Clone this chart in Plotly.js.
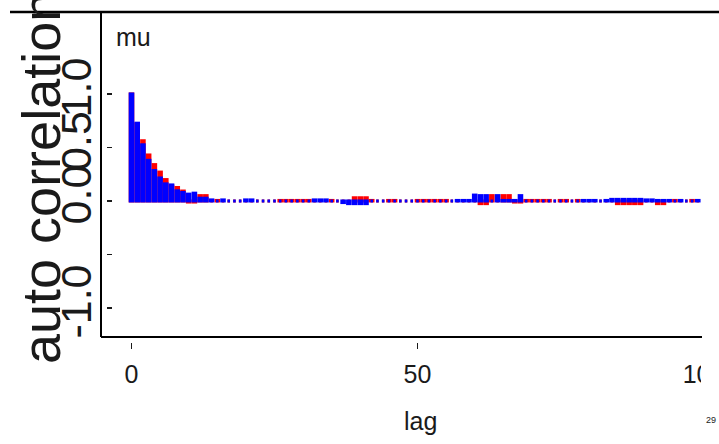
<!DOCTYPE html>
<html>
<head>
<meta charset="utf-8">
<script src="https://cdn.plot.ly/plotly-3.0.1.min.js"></script>
<style>
  html, body { margin: 0; padding: 0; background: #ffffff; }
  #chart { width: 719px; height: 444px; }
</style>
</head>
<body>
<div id="chart"></div>
<script>
// Autocorrelation of mu for two MCMC chains, lags 0..99
const lags = [
  0, 1, 2, 3, 4, 5, 6, 7, 8, 9,
  10, 11, 12, 13, 14, 15, 16, 17, 18, 19,
  20, 21, 22, 23, 24, 25, 26, 27, 28, 29,
  30, 31, 32, 33, 34, 35, 36, 37, 38, 39,
  40, 41, 42, 43, 44, 45, 46, 47, 48, 49,
  50, 51, 52, 53, 54, 55, 56, 57, 58, 59,
  60, 61, 62, 63, 64, 65, 66, 67, 68, 69,
  70, 71, 72, 73, 74, 75, 76, 77, 78, 79,
  80, 81, 82, 83, 84, 85, 86, 87, 88, 89,
  90, 91, 92, 93, 94, 95, 96, 97, 98, 99
];

// chain 1 (blue)
const chain1 = [
  1.0, 0.727, 0.525, 0.38, 0.285, 0.215, 0.16, 0.15, 0.095, 0.08,
  0.064, 0.073, 0.026, 0.026, 0.01, 0, 0.01, 0, 0, 0,
  0.01, 0.01, 0, 0, 0, 0, 0, 0, 0, 0,
  0, 0, 0.01, 0.01, 0.01, 0, 0, -0.015, -0.025, -0.025,
  -0.025, -0.025, 0, 0, 0, 0, 0, 0, 0, 0,
  0, 0, 0, 0, 0, 0, 0, 0.005, 0.005, 0.005,
  0.055, 0.05, 0.05, 0, 0.05, 0.005, 0.005, 0.005, 0.05, 0,
  0, 0, 0, 0, 0, 0, 0, 0, 0, 0.005,
  0.005, 0.005, 0, 0.005, 0.015, 0.015, 0.015, 0.015, 0.015, 0.015,
  0.01, 0.01, 0.005, 0.005, 0.005, 0, 0.005, 0, 0, 0.005
];

// chain 2 (red)
const chain2 = [
  1.0, 0.72, 0.563, 0.43, 0.34, 0.27, 0.20, 0.14, 0.126, 0.093,
  -0.01, -0.01, 0.05, 0.05, 0, 0.005, 0, 0, 0, 0,
  0, 0, 0, 0, 0, 0, 0.005, 0.005, 0.005, 0.005,
  0.005, 0.005, 0, 0, 0, 0.005, 0, 0, 0, 0.03,
  0.03, 0.03, 0.005, 0, 0, 0.005, 0.005, 0, 0, 0,
  0.005, 0.005, 0.005, 0.005, 0.005, 0.005, 0, 0, 0, 0,
  0, -0.025, -0.025, 0.05, 0, 0.05, 0.05, -0.01, -0.01, 0.005,
  0.005, 0.005, 0.005, 0.005, 0, 0.005, 0.005, 0, 0.005, 0,
  0, 0, 0, 0, 0, -0.025, -0.025, -0.025, -0.025, -0.025,
  0, 0, -0.025, -0.025, 0, 0.005, 0, 0, 0.005, 0
];

const xTickVals = [0, 50, 100];
const xTickText = ['0', '50', '100'];
const yTickVals = [-1, -0.5, 0, 0.5, 1];
const yTickText = ['-1.0', '', '0.0', '0.5', '1.0'];

const FONT = 'Liberation Sans, Arial, Helvetica, sans-serif';
const INK = '#1a1a1a';

function chainTrace(values, color) {
  return {
    type: 'bar',
    x: lags,
    y: values,
    width: 0.45,
    marker: { color: color, line: { color: color, width: 3 } },
    hoverinfo: 'skip'
  };
}

const data = [
  chainTrace(chain2, '#ff0000'),
  chainTrace(chain1, '#0000ff')
];

// pixel helpers for paper coordinates (plot area: x 101..719, y 12..342)
const px = v => (v - 101) / 618;
const py = v => (342 - v) / 330;

const layout = {
  width: 719,
  height: 444,
  margin: { l: 101, r: 0, t: 12, b: 102, pad: 0 },
  paper_bgcolor: '#ffffff',
  plot_bgcolor: '#ffffff',
  showlegend: false,
  barmode: 'overlay',
  font: { family: FONT, color: INK },
  xaxis: {
    range: [-5.33, 102.71],
    tickmode: 'array',
    tickvals: xTickVals,
    ticktext: xTickText,
    ticks: 'outside',
    ticklen: 6,
    tickwidth: 1.2,
    tickcolor: INK,
    ticklabelstandoff: 4,
    ticklabeloverflow: 'allow',
    tickfont: { family: FONT, size: 25, color: INK },
    showline: false,
    showgrid: false,
    zeroline: false,
    fixedrange: true
  },
  yaxis: {
    range: [-1.318, 1.766],
    anchor: 'free',
    position: 0.0081,
    side: 'left',
    tickmode: 'array',
    tickvals: yTickVals,
    ticktext: yTickText,
    ticks: 'inside',
    ticklen: 5,
    tickwidth: 1.5,
    tickcolor: INK,
    tickangle: -90,
    ticklabelstandoff: 6,
    ticklabeloverflow: 'allow',
    tickfont: { family: FONT, size: 43, color: INK },
    showline: false,
    showgrid: false,
    zeroline: false,
    fixedrange: true
  },
  shapes: [
    // frame lines
    { type: 'line', xref: 'paper', yref: 'paper', x0: px(10), x1: px(719), y0: py(12), y1: py(12),
      line: { color: '#000000', width: 2.4 } },
    { type: 'line', xref: 'paper', yref: 'paper', x0: px(101), x1: px(101), y0: py(12), y1: py(337),
      line: { color: '#000000', width: 2 } },
    { type: 'line', xref: 'paper', yref: 'paper', x0: px(101), x1: px(702), y0: py(337), y1: py(337),
      line: { color: '#000000', width: 2 } },
    // right edge cut-off of the figure
    { type: 'rect', xref: 'paper', yref: 'paper', layer: 'above', x0: px(701), x1: px(730), y0: py(400), y1: py(338.5),
      fillcolor: '#ffffff', line: { width: 0 } }
  ],
  annotations: [
    { text: 'auto correlation', xref: 'paper', yref: 'paper', x: px(41), y: py(178),
      xanchor: 'center', yanchor: 'middle', textangle: -90, showarrow: false,
      font: { family: FONT, size: 54, color: INK } },
    { text: 'mu', xref: 'paper', yref: 'paper', x: px(114), y: py(37),
      xanchor: 'left', yanchor: 'middle', showarrow: false,
      font: { family: FONT, size: 25, color: INK } },
    { text: 'lag', xref: 'paper', yref: 'paper', x: px(420), y: py(421),
      xanchor: 'center', yanchor: 'middle', showarrow: false,
      font: { family: FONT, size: 25, color: INK } },
    { text: '29', xref: 'paper', yref: 'paper', x: px(711), y: py(420),
      xanchor: 'center', yanchor: 'middle', showarrow: false,
      font: { family: FONT, size: 9, color: INK } }
  ]
};

Plotly.newPlot('chart', data, layout, { staticPlot: true, displayModeBar: false });
</script>
</body>
</html>
